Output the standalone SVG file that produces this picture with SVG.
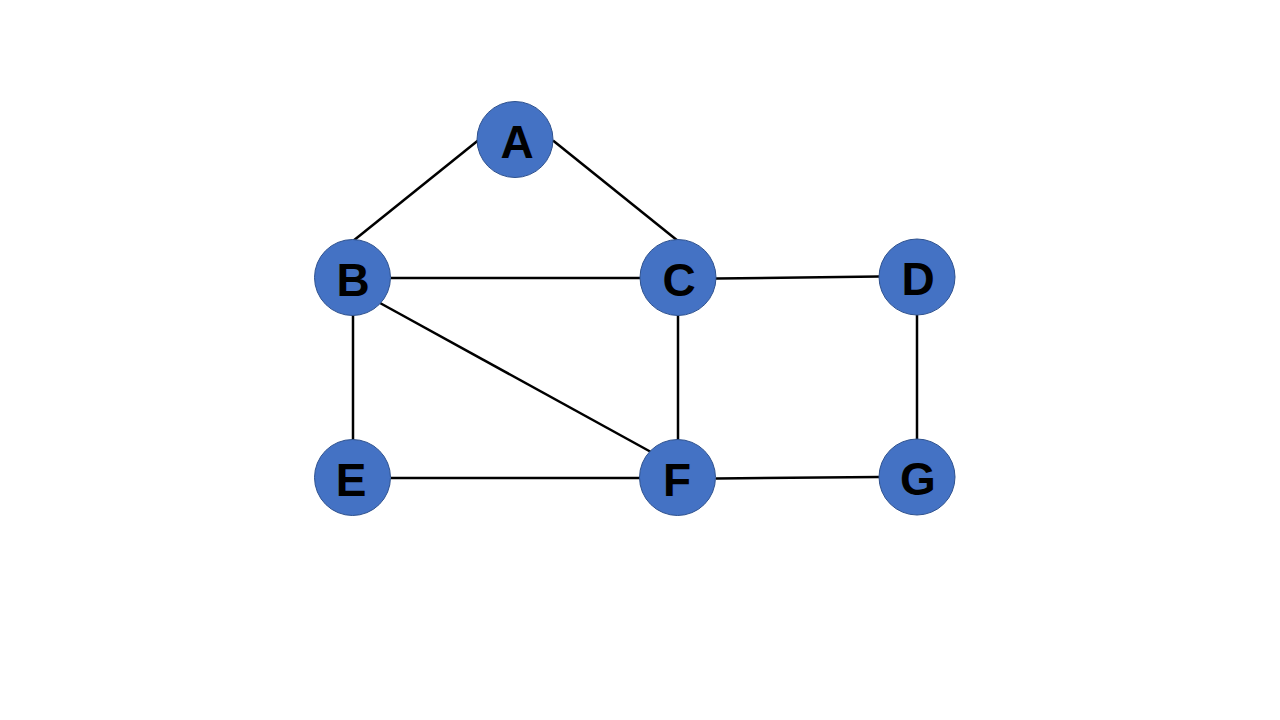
<svg xmlns="http://www.w3.org/2000/svg" width="1280" height="720" viewBox="0 0 1280 720">
<style>
.edge{stroke:#000;stroke-width:2.5;fill:none}
.node circle{fill:#4472C4;stroke:#2F528F;stroke-width:1}
.node text{font-family:"Liberation Sans",Arial,sans-serif;font-weight:bold;font-size:46px;fill:#000;text-anchor:middle;dominant-baseline:central}
</style>
<rect width="1280" height="720" fill="#fff"/>
<g id="connectors">
<line class="edge" x1="478" y1="140.5" x2="353" y2="241"/>
<line class="edge" x1="553" y1="140.5" x2="678" y2="241"/>
<line class="edge" x1="391" y1="278" x2="640" y2="278"/>
<line class="edge" x1="716" y1="278.5" x2="879" y2="276.5"/>
<line class="edge" x1="380" y1="303" x2="651" y2="452"/>
<line class="edge" x1="353" y1="315" x2="353" y2="441"/>
<line class="edge" x1="678" y1="315" x2="678" y2="441"/>
<line class="edge" x1="917" y1="315" x2="917" y2="441"/>
<line class="edge" x1="391" y1="478" x2="640" y2="478"/>
<line class="edge" x1="716" y1="478.5" x2="879" y2="477"/>
</g>
<g id="node-A" class="node"><circle cx="515" cy="139.5" r="38"/><text x="517" y="142">A</text></g>
<g id="node-B" class="node"><circle cx="352.5" cy="277.5" r="38"/><text x="353" y="280">B</text></g>
<g id="node-C" class="node"><circle cx="678" cy="277.5" r="38"/><text x="679" y="280">C</text></g>
<g id="node-D" class="node"><circle cx="917" cy="277" r="38"/><text x="918" y="279">D</text></g>
<g id="node-E" class="node"><circle cx="352.5" cy="477.5" r="38"/><text x="351" y="480">E</text></g>
<g id="node-F" class="node"><circle cx="677.5" cy="477.5" r="38"/><text x="677" y="480">F</text></g>
<g id="node-G" class="node"><circle cx="917" cy="477" r="38"/><text x="918" y="479">G</text></g>
</svg>
